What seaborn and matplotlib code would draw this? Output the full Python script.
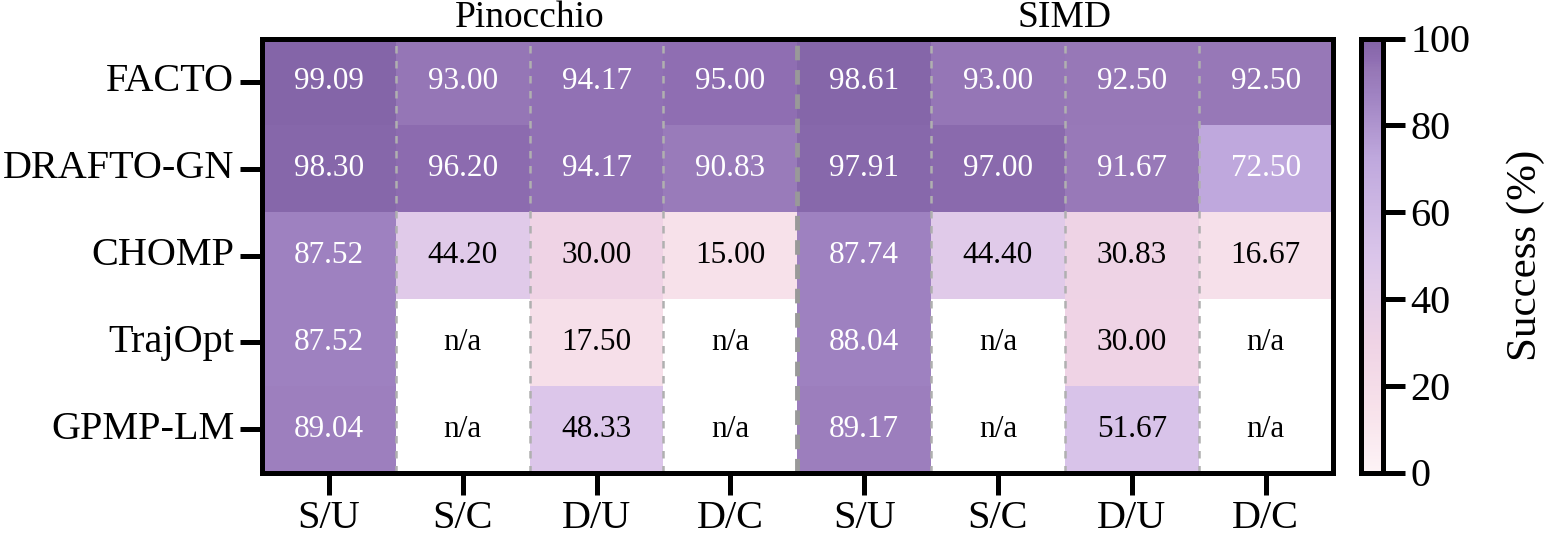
import numpy as np
import pandas as pd
import matplotlib
matplotlib.use("Agg")
import matplotlib.pyplot as plt
import seaborn as sns
from matplotlib.colors import LinearSegmentedColormap

methods = ["FACTO", "DRAFTO-GN", "CHOMP", "TrajOpt", "GPMP-LM"]
columns = ["S/U", "S/C", "D/U", "D/C", "S/U", "S/C", "D/U", "D/C"]
groups = ["Pinocchio", "SIMD"]

facto = [99.09, 93.00, 94.17, 95.00, 98.61, 93.00, 92.50, 92.50]
drafto = [98.30, 96.20, 94.17, 90.83, 97.91, 97.00, 91.67, 72.50]
chomp = [87.52, 44.20, 30.00, 15.00, 87.74, 44.40, 30.83, 16.67]
trajopt = [87.52, np.nan, 17.50, np.nan, 88.04, np.nan, 30.00, np.nan]
gpmp = [89.04, np.nan, 48.33, np.nan, 89.17, np.nan, 51.67, np.nan]

data = np.array([facto, drafto, chomp, trajopt, gpmp])

sns.set_style("white")
plt.rcParams['font.family'] = ['Liberation Serif', 'DejaVu Serif']
plt.rcParams['text.color'] = 'black'
plt.rcParams['xtick.color'] = 'black'
plt.rcParams['ytick.color'] = 'black'
plt.rcParams['axes.labelcolor'] = 'black'

nodes = [(0.0, "#fdf3f6"), (0.15, "#f7e1ea"), (0.30, "#efd3e5"), (0.44, "#e0cae9"),
         (0.50, "#dac5ea"), (0.725, "#bfa8dd"), (0.875, "#9f82c1"), (0.93, "#9677b6"),
         (0.95, "#906fb3"), (1.0, "#8263a6")]
cmap = LinearSegmentedColormap.from_list("succ", nodes)
cmap.set_bad("white")

W, H = 1552, 538
fig = plt.figure(figsize=(W / 100, H / 100), dpi=100)
ax = fig.add_axes([262 / W, 1 - 472.5 / H, (1332.5 - 262) / W, (472.5 - 38.5) / H])
cax = fig.add_axes([1360.5 / W, 1 - 472.5 / H, 22 / W, (472.5 - 38.5) / H])

annot = np.array([["n/a" if np.isnan(v) else f"{v:.2f}" for v in row] for row in data])
df = pd.DataFrame(data, index=methods)

sns.heatmap(df, ax=ax, cbar_ax=cax, cmap=cmap, vmin=0, vmax=100, annot=False,
            linewidths=0, cbar_kws={"ticks": [0, 20, 40, 60, 80, 100]})

for i in range(data.shape[0]):
    for j in range(data.shape[1]):
        v = data[i, j]
        col = "white" if (not np.isnan(v) and v > 60) else "black"
        ax.text(j + 0.5, i + 0.5, annot[i, j], ha="center", va="center",
                fontsize=22.5, color=col)

for x in [1, 2, 3, 5, 6, 7]:
    ax.axvline(x, color="#b0b0b0", lw=1.8, ls=(0, (3, 3)))
ax.axvline(4, color="#999999", lw=3.5, ls=(0, (3, 2)))

ax.set_xticks(np.arange(8) + 0.5)
ax.set_xticklabels(columns, fontsize=29, rotation=0)
ax.set_yticks(np.arange(5) + 0.5)
ax.set_yticklabels(methods, fontsize=29, rotation=0)
ax.tick_params(axis="both", length=16, width=3.6, direction="out", pad=4,
               bottom=True, left=True, colors="black")
for s in ax.spines.values():
    s.set_visible(True)
    s.set_linewidth(3.6)
    s.set_color("black")

ax.text(2, -0.13, groups[0], ha="center", va="baseline", fontsize=27)
ax.text(6, -0.13, groups[1], ha="center", va="baseline", fontsize=27)
ax.set_xlabel("")
ax.set_ylabel("")

cax.tick_params(length=16, width=3.6, labelsize=29, pad=4, colors="black")
for s in cax.spines.values():
    s.set_visible(True)
    s.set_linewidth(3.6)
    s.set_color("black")
cax.set_ylabel("Success (%)", fontsize=31, labelpad=26)

fig.savefig("out.png", dpi=100)
